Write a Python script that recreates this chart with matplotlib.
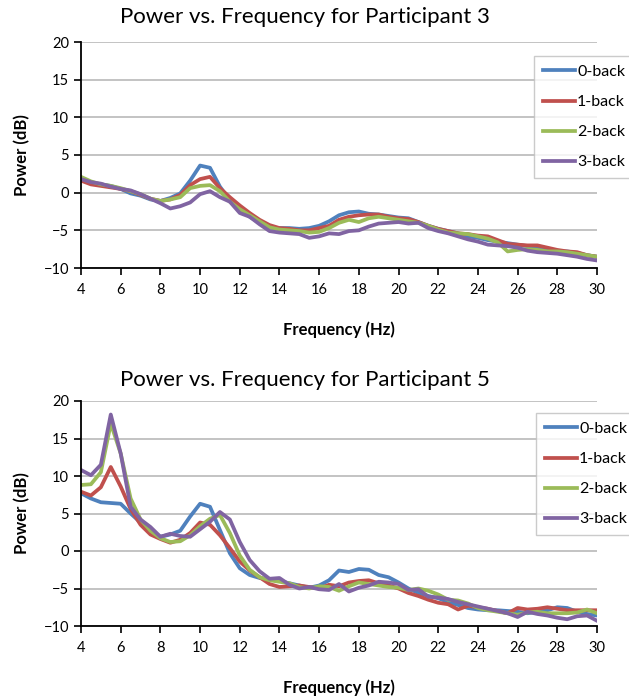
import matplotlib
matplotlib.use('Agg')
import matplotlib.pyplot as plt
import numpy as np

# ─── DATOS ───────────────────────────────────────────────────────────────────
freq = np.arange(4, 30.01, 0.5)
series_labels = ['0-back', '1-back', '2-back', '3-back']
colores = ['#4F81BD', '#C0504D', '#9BBB59', '#8064A2']

p3_0back = [1.8, 1.3, 1.1, 0.9, 0.5, -0.1, -0.4, -0.9, -1.1, -0.7, -0.1, 1.6, 3.6, 3.3, 0.8, -1.0,
            -2.2, -3.2, -4.0, -4.6, -4.7, -4.7, -4.8, -4.7, -4.4, -3.8, -3.0, -2.6, -2.5, -2.8, -2.9,
            -3.1, -3.3, -3.4, -3.9, -4.4, -4.8, -5.1, -5.4, -5.8, -6.0, -6.3, -6.5, -6.7, -6.9, -7.1,
            -7.3, -7.6, -7.8, -7.8, -8.0, -8.3, -8.5]
p3_1back = [1.6, 1.1, 0.9, 0.7, 0.5, 0.2, -0.3, -0.8, -1.1, -0.9, -0.3, 1.0, 1.8, 2.1, 0.6, -0.6,
            -1.7, -2.7, -3.6, -4.3, -4.7, -4.8, -5.0, -5.0, -4.7, -4.4, -3.6, -3.2, -3.0, -2.9, -2.9,
            -3.2, -3.4, -3.5, -3.9, -4.4, -4.8, -5.1, -5.4, -5.5, -5.7, -5.8, -6.3, -6.8, -6.9, -7.0,
            -7.0, -7.3, -7.6, -7.8, -7.9, -8.3, -8.5]
p3_2back = [2.1, 1.5, 1.1, 0.9, 0.6, 0.2, -0.2, -0.8, -1.1, -0.9, -0.6, 0.6, 0.9, 1.0, 0.2, -1.2,
            -2.2, -3.0, -3.8, -4.6, -4.9, -5.0, -5.1, -5.3, -5.2, -4.7, -4.0, -3.6, -3.9, -3.4, -3.2,
            -3.4, -3.6, -3.8, -4.0, -4.4, -4.9, -5.3, -5.4, -5.5, -5.8, -6.1, -6.6, -7.8, -7.6, -7.5,
            -7.6, -7.8, -7.8, -7.9, -8.1, -8.3, -8.5]
p3_3back = [1.8, 1.4, 1.2, 0.8, 0.5, 0.3, -0.2, -0.8, -1.4, -2.1, -1.8, -1.3, -0.2, 0.2, -0.6, -1.2,
            -2.7, -3.2, -4.2, -5.1, -5.3, -5.4, -5.5, -6.0, -5.8, -5.4, -5.5, -5.1, -5.0, -4.5, -4.1,
            -4.0, -3.9, -4.1, -4.0, -4.7, -5.1, -5.4, -5.8, -6.2, -6.5, -6.9, -7.0, -7.1, -7.3, -7.7,
            -7.9, -8.0, -8.1, -8.3, -8.5, -8.8, -9.0]

p5_0back = [7.7, 7.0, 6.5, 6.4, 6.3, 5.0, 3.8, 2.8, 1.9, 2.2, 2.7, 4.6, 6.3, 5.9, 2.8, -0.3,
            -2.3, -3.2, -3.6, -3.8, -4.0, -4.3, -4.6, -4.9, -4.6, -3.9, -2.6, -2.8, -2.4, -2.5, -3.2,
            -3.5, -4.2, -5.0, -5.6, -6.0, -6.3, -6.8, -7.2, -7.6, -7.8, -7.9, -7.9, -8.0, -8.1, -8.3,
            -8.1, -7.9, -7.5, -7.6, -8.1, -8.4, -8.6]
p5_1back = [7.9, 7.4, 8.5, 11.2, 8.6, 5.6, 3.5, 2.2, 1.6, 1.1, 1.5, 2.4, 3.8, 3.5, 2.1, 0.4,
            -1.4, -2.6, -3.5, -4.4, -4.8, -4.7, -4.6, -4.8, -5.0, -4.5, -4.7, -4.2, -4.0, -3.9, -4.3,
            -4.6, -5.0, -5.6, -6.0, -6.5, -6.9, -7.1, -7.8, -7.3, -7.5, -7.7, -8.0, -8.3, -7.6, -7.8,
            -7.7, -7.5, -7.7, -7.9, -7.9, -7.9, -7.9]
p5_2back = [8.8, 8.9, 10.5, 17.0, 13.0, 7.0, 4.2, 2.7, 1.7, 1.2, 1.3, 2.1, 3.3, 4.3, 4.8, 2.4,
            -0.6, -2.5, -3.5, -3.9, -4.1, -4.3, -4.8, -5.0, -4.7, -4.8, -5.3, -4.7, -4.2, -4.4, -4.6,
            -4.8, -4.9, -5.2, -5.0, -5.3, -5.8, -6.5, -6.6, -7.0, -7.6, -7.9, -8.1, -8.3, -8.5, -8.2,
            -8.1, -8.3, -8.3, -8.3, -8.2, -7.8, -8.3]
p5_3back = [10.8, 10.1, 11.5, 18.2, 13.0, 5.9, 4.2, 3.2, 1.9, 2.3, 2.0, 1.9, 2.9, 3.9, 5.2, 4.2,
            1.2, -1.2, -2.7, -3.7, -3.6, -4.5, -5.0, -4.8, -5.1, -5.2, -4.4, -5.4, -4.9, -4.6, -4.1,
            -4.2, -4.4, -5.2, -5.1, -6.1, -6.2, -6.4, -6.8, -7.1, -7.4, -7.7, -8.0, -8.3, -8.8, -8.1,
            -8.4, -8.6, -8.9, -9.1, -8.7, -8.6, -9.3]

x_ticks = np.arange(4, 31, 2)
y_ticks = np.arange(-10, 21, 5)

plt.rcParams['font.family'] = ['Lato', 'DejaVu Sans']


# ─── GRÁFICO ─────────────────────────────────────────────────────────────────
def dibujar_panel(fig, rect, titulo, datos, legend_xy, title_y, xlabel_y):
    ax = fig.add_axes(rect)
    for vals, lab, col in zip(datos, series_labels, colores):
        ax.plot(freq, vals, color=col, lw=2.7, label=lab, solid_joinstyle='round')

    ax.set_xlim(4, 30)
    ax.set_ylim(-10, 20)
    ax.set_xticks(x_ticks)
    ax.set_yticks(y_ticks)
    ax.tick_params(axis='both', direction='out', length=5, width=1.2,
                   labelsize=10.5, color='black')
    ax.tick_params(axis='x', pad=6)
    ax.yaxis.grid(True, color='#BEBEBE', lw=1.3)
    ax.set_axisbelow(True)
    for s in ['top', 'right']:
        ax.spines[s].set_visible(False)
    for s in ['left', 'bottom']:
        ax.spines[s].set_linewidth(1.3)

    fig.text(305/629, title_y, titulo, ha='center', va='center', fontsize=16)
    fig.text(339/629, xlabel_y, 'Frequency (Hz)', ha='center', va='center',
             fontsize=12, fontweight='bold')
    ax.set_ylabel('Power (dB)', fontsize=12, fontweight='bold', labelpad=10)

    leg = fig.legend(*ax.get_legend_handles_labels(), loc='upper left',
                     bbox_to_anchor=legend_xy, bbox_transform=fig.transFigure,
                     fontsize=11.5, handlelength=2.0, handletextpad=0.15,
                     labelspacing=1.0, borderpad=0.55, borderaxespad=0,
                     frameon=True, fancybox=False, shadow=False)
    leg.get_frame().set_edgecolor('#BFBFBF')
    leg.get_frame().set_linewidth(1.0)
    return ax


fig = plt.figure(figsize=(6.29, 6.98), dpi=100)

dibujar_panel(fig, [81/629, 1-268/698, 516/629, 226/698],
              'Power vs. Frequency for Participant 3',
              [p3_0back, p3_1back, p3_2back, p3_3back],
              (534/629, 1-56/698), 1-17/698, 1-330/698)

dibujar_panel(fig, [81/629, 1-626/698, 516/629, 225/698],
              'Power vs. Frequency for Participant 5',
              [p5_0back, p5_1back, p5_2back, p5_3back],
              (536/629, 1-413/698), 1-380/698, 1-688/698)

plt.savefig('out.png', dpi=100)
plt.close()
